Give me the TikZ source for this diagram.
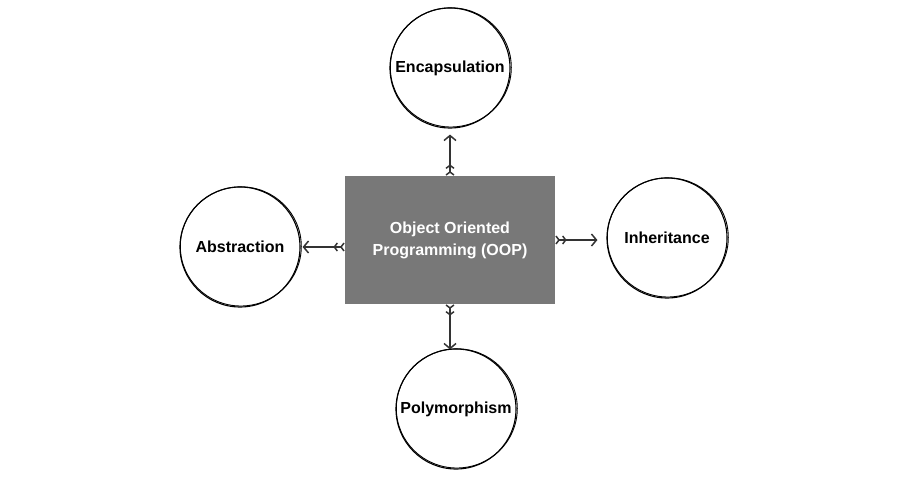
\documentclass[tikz,border=0pt]{standalone}
\usepackage{fontspec}
\setmainfont{Liberation Sans}
\usetikzlibrary{arrows.meta,calc}
\definecolor{boxgray}{HTML}{787878}
\definecolor{linegray}{HTML}{333333}
\tikzset{
  concept/.style={circle, draw=black, line width=1.1pt, minimum size=120pt, inner sep=0pt,
    font=\fontsize{16}{19}\selectfont\bfseries, text=black},
  sketch/.style={draw=black, line width=0.9pt},
  mainbox/.style={rectangle, fill=boxgray, minimum width=210pt, minimum height=128pt,
    font=\fontsize{16}{22}\selectfont\bfseries, text=white, align=center},
  link/.style={draw=linegray, line width=1.5pt,
    arrows={Straight Barb[reversed,length=3pt,width=8pt]Straight Barb[reversed,length=3pt,width=8pt,sep=2pt]-Straight Barb[length=5pt,width=12pt]}}
}
\begin{document}
\begin{tikzpicture}[x=1pt,y=-1pt]
\useasboundingbox (0,0) rectangle (900,480);
\node[mainbox] (oop) at (450,240) {Object Oriented\\Programming (OOP)};
\node[concept] (enc) at (450,68) {Encapsulation};
\node[concept] (abs) at (240,247) {Abstraction};
\node[concept] (inh) at (667,238) {Inheritance};
\node[concept] (pol) at (456,409) {Polymorphism};
\foreach \n in {enc,abs,inh,pol}{
  \draw[sketch] ($(\n.center)+(0.8,-0.6)$) ellipse [x radius=60.5pt, y radius=59.6pt];
}
\draw[link, shorten >=6pt] (oop.north) -- (oop.north |- enc.south);
\draw[link, shorten >=2pt] (oop.west |- abs.east) -- (abs.east);
\draw[link, shorten >=9pt] (oop.east) -- (oop.east -| inh.west);
\draw[link, shorten >=-1pt] (oop.south) -- (oop.south |- pol.north);
\end{tikzpicture}
\end{document}
